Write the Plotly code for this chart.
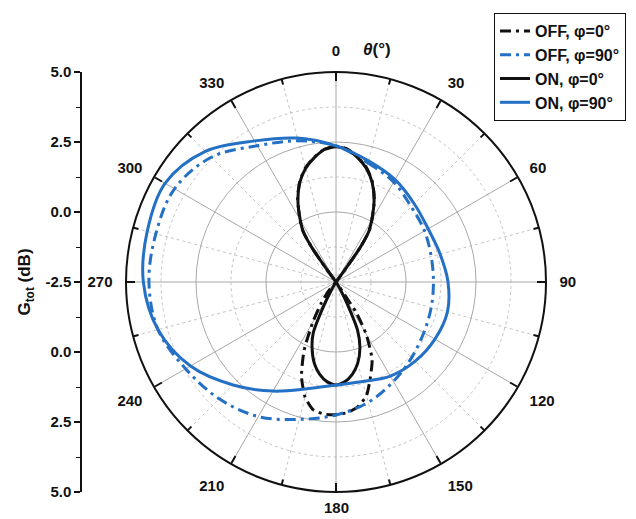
import plotly.graph_objects as go

# Total gain patterns G_tot (dB) versus theta (deg)
theta_on0 = [0, 5, 10, 15, 20, 25, 30, 33, 35, 36, 37, 90, 143, 150, 153, 156, 160,
             165, 170, 175, 180, 185, 190, 195, 200, 204, 207, 210, 217, 270, 323, 324,
             325, 327, 330, 335, 340, 345, 350, 355, 360]
gain_on0 = [2.33, 2.25, 2.00, 1.70, 1.28, 0.72, 0.05, -0.35, -1.00, -1.90, -2.50, -2.50,
            -2.50, -2.20, -1.60, -0.60, 0.00, 0.50, 0.85, 1.08, 1.18, 1.08, 0.85, 0.50,
            0.00, -0.50, -1.50, -2.20, -2.50, -2.50, -2.50, -1.90, -1.00, -0.35, 0.05,
            0.72, 1.28, 1.70, 2.00, 2.25, 2.33]

theta_off0 = [0, 5, 10, 15, 20, 25, 30, 33, 35, 36, 37, 90, 144, 146.5, 150, 155, 160,
              165, 170, 175, 180, 185, 190, 195, 200, 205, 210, 215, 220, 223, 270, 323,
              324, 325, 327, 330, 335, 340, 345, 350, 355, 360]
gain_off0 = [2.35, 2.26, 2.02, 1.72, 1.30, 0.74, 0.07, -0.33, -0.98, -1.88, -2.50, -2.50,
             -2.50, -1.20, -0.35, 0.55, 1.10, 1.70, 2.02, 2.18, 2.24, 2.24, 2.14, 1.76,
             1.10, 0.20, -0.85, -1.60, -2.10, -2.50, -2.50, -2.50, -1.88, -0.98, -0.33,
             0.07, 0.74, 1.30, 1.72, 2.02, 2.26, 2.35]

theta_90 = [0, 15, 30, 45, 60, 75, 90, 105, 120, 135, 150, 165, 180, 195, 210, 225, 240,
            255, 270, 285, 300, 315, 330, 345, 360]
gain_on90 = [2.36, 1.98, 1.72, 1.45, 1.30, 1.35, 1.50, 1.62, 1.58, 1.50, 1.38, 1.18,
             1.18, 1.45, 2.00, 2.70, 3.50, 4.08, 4.38, 4.48, 4.55, 4.10, 3.32, 2.82, 2.36]
gain_off90 = [2.36, 1.90, 1.62, 1.30, 1.15, 1.02, 0.98, 1.02, 1.12, 1.32, 1.60, 1.95,
              2.25, 2.58, 3.05, 3.40, 3.70, 4.08, 4.18, 4.16, 4.16, 3.80, 3.12, 2.72, 2.36]

# Axis ticks
angle_ticks = list(range(0, 360, 30))
angle_text = ["" if a == 180 else str(a) for a in angle_ticks]
angle_minor = list(range(15, 360, 30))
r_major = [0.0, 2.5]
r_minor = [-1.25, 1.25, 3.75]
side_vals = [-7.5, -5.0, -2.5, 0.0, 2.5, 5.0, 7.5]
side_text = ["5.0", "2.5", "0.0", "-2.5", "0.0", "2.5", "5.0"]

BLUE = "#2470c4"
BLACK = "#111111"
FONT = "Liberation Sans, Arial, sans-serif"

W, H = 636, 519


def px(x):
    return x / W


def py(y):
    return 1 - y / H


fig = go.Figure()

# empty traces so the two grid layers get drawn
for sp in ("polar", "polar2"):
    fig.add_trace(go.Scatterpolar(r=[None], theta=[None], subplot=sp, mode="lines",
                                  showlegend=False, hoverinfo="skip"))

series = [
    ("OFF, φ=0°", theta_off0, gain_off0, BLACK, "11px,5px,3px,5px", 0.6),
    ("OFF, φ=90°", theta_90, gain_off90, BLUE, "11px,5px,3px,5px", 1.0),
    ("ON, φ=0°", theta_on0, gain_on0, BLACK, "solid", 0.6),
    ("ON, φ=90°", theta_90, gain_on90, BLUE, "solid", 1.0),
]
for name, th, g, col, dash, sm in series:
    fig.add_trace(go.Scatterpolar(
        theta=th, r=g, mode="lines", name=name, subplot="polar3",
        line=dict(color=col, width=3, dash=dash, shape="spline", smoothing=sm),
    ))

# placeholder so the side gain axis is drawn
fig.add_trace(go.Scatter(x=[None], y=[None], showlegend=False, hoverinfo="skip"))

dom_x = [px(126), px(546)]
dom_y = [py(492), py(72)]
tick_font = dict(family=FONT, size=15, color=BLACK, weight="bold")

fig.update_layout(
    template="none",
    width=W, height=H,
    margin=dict(l=0, r=0, t=0, b=0),
    paper_bgcolor="white", plot_bgcolor="white",
    font=dict(family=FONT, size=15, color=BLACK, weight="bold"),
    # dotted minor grid and minor ticks
    polar=dict(
        domain=dict(x=dom_x, y=dom_y),
        bgcolor="white",
        angularaxis=dict(
            rotation=90, direction="clockwise",
            tickmode="array", tickvals=angle_minor, showticklabels=False,
            ticks="inside", ticklen=5, tickwidth=1.5, tickcolor=BLACK,
            showgrid=True, gridcolor="#c4c4c4", gridwidth=1, griddash="dot",
            showline=False,
        ),
        radialaxis=dict(
            range=[-2.5, 5.0], tickmode="array", tickvals=r_minor,
            showticklabels=False, ticks="", showline=False,
            showgrid=True, gridcolor="#c4c4c4", gridwidth=1, griddash="dot",
        ),
    ),
    # solid major grid, major ticks and outer ring
    polar2=dict(
        domain=dict(x=dom_x, y=dom_y),
        bgcolor="rgba(0,0,0,0)",
        angularaxis=dict(
            rotation=90, direction="clockwise",
            tickmode="array", tickvals=angle_ticks, showticklabels=False,
            ticks="inside", ticklen=8, tickwidth=1.5, tickcolor=BLACK,
            showgrid=True, gridcolor="#a8a8a8", gridwidth=1,
            showline=True, linecolor=BLACK, linewidth=2,
        ),
        radialaxis=dict(
            range=[-2.5, 5.0], tickmode="array", tickvals=r_major,
            showticklabels=False, ticks="", showline=False,
            showgrid=True, gridcolor="#a8a8a8", gridwidth=1,
        ),
    ),
    # angle labels and the gain curves
    polar3=dict(
        domain=dict(x=dom_x, y=dom_y),
        bgcolor="rgba(0,0,0,0)",
        angularaxis=dict(
            rotation=90, direction="clockwise",
            tickmode="array", tickvals=angle_ticks, ticktext=angle_text,
            ticks="outside", ticklen=10, tickcolor="rgba(0,0,0,0)",
            tickfont=tick_font, showgrid=False, showline=False,
        ),
        radialaxis=dict(
            range=[-2.5, 5.0], showticklabels=False, ticks="",
            showline=False, showgrid=False,
        ),
    ),
    xaxis=dict(domain=[px(82), px(150)], visible=False, range=[0, 1]),
    yaxis=dict(
        domain=dom_y, range=[-7.5, 7.5], anchor="x",
        tickmode="array", tickvals=side_vals, ticktext=side_text,
        ticks="outside", ticklen=6, tickwidth=1.5, tickcolor=BLACK,
        minor=dict(dtick=1.25, tick0=0, ticks="outside", ticklen=4, tickwidth=1.2,
                   tickcolor=BLACK),
        showline=True, linecolor=BLACK, linewidth=1.5,
        showgrid=False, zeroline=False,
        tickfont=tick_font,
        title=dict(text="G<sub>tot</sub> (dB)", standoff=10,
                   font=dict(family=FONT, size=17, color=BLACK, weight="bold")),
    ),
    legend=dict(
        x=px(494), y=py(13), xanchor="left", yanchor="top",
        bgcolor="white", bordercolor=BLACK, borderwidth=1,
        font=dict(family=FONT, size=16, color=BLACK, weight="bold"),
        tracegroupgap=0, itemwidth=30,
    ),
    showlegend=True,
    annotations=[
        dict(text="<i>θ</i>(°)", x=px(377), y=py(50), xref="paper", yref="paper",
             showarrow=False, xanchor="center", yanchor="middle",
             font=dict(family=FONT, size=17, color=BLACK, weight="bold")),
        # bottom angle label, kept inside the page
        dict(text="180", x=px(336), y=py(507), xref="paper", yref="paper",
             showarrow=False, xanchor="center", yanchor="middle", font=tick_font),
    ],
)

fig.write_html("out.html")
